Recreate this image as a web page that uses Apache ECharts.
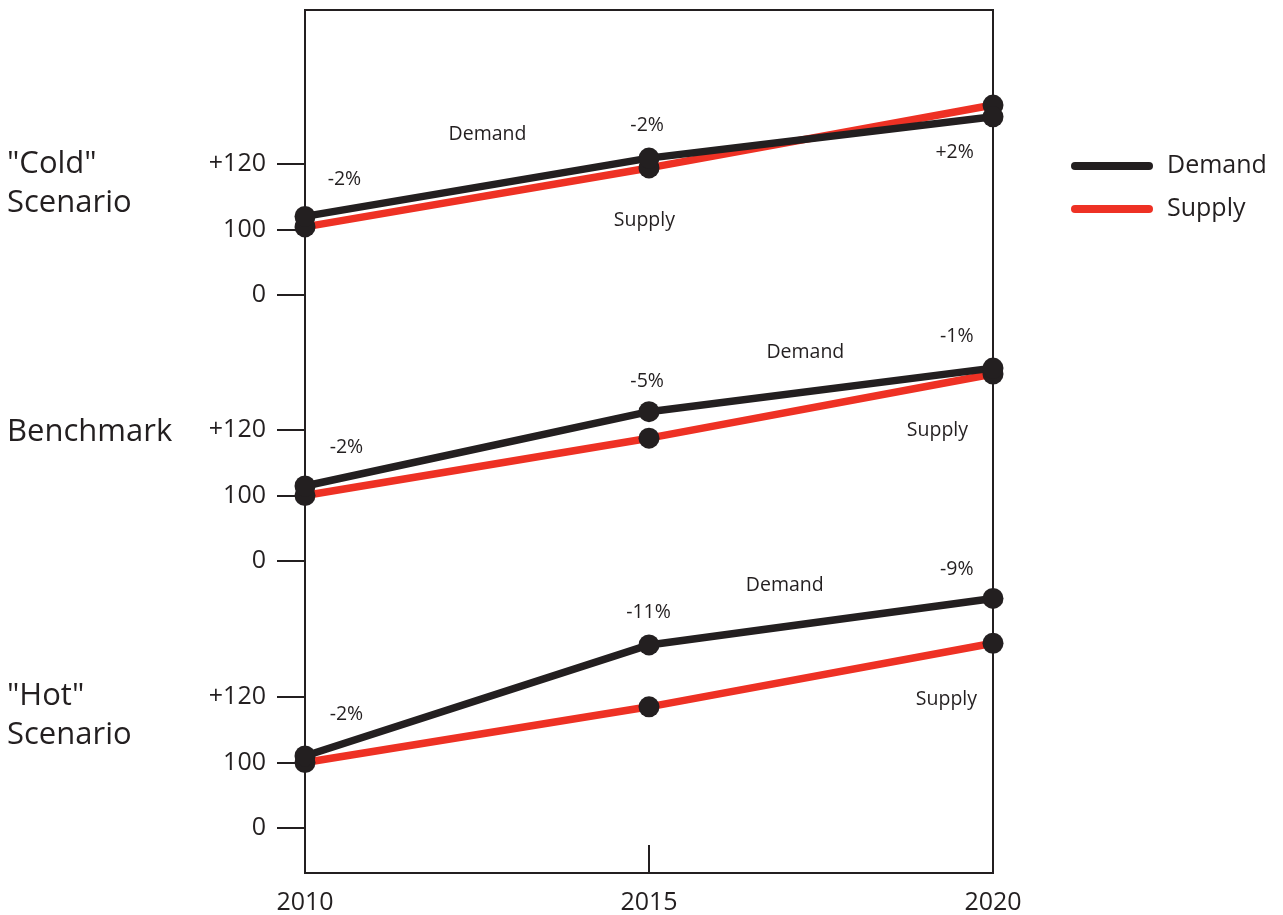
<!DOCTYPE html>
<html>
<head>
<meta charset="utf-8">
<title>Demand and Supply Scenarios</title>
<script src="https://cdn.jsdelivr.net/npm/echarts@6/dist/echarts.min.js"></script>
<style>
  html, body { margin: 0; padding: 0; background: #ffffff; }
  #chart { width: 1283px; height: 915px; }
</style>
</head>
<body>
<div id="chart"></div>
<script>
// ---- data ----
const years = [2010, 2015, 2020];
const xTickLabels = ['2010', '2015', '2020'];
const panelTitles = ['"Cold"\nScenario', 'Benchmark', '"Hot"\nScenario'];

// broken value axis: the lowest tick stands for zero
const yTickValues = [80, 100, 120];
const yTickLabels = ['0', '100', '+120'];

const demandCold = [104, 121.8, 134.4];
const supplyCold = [100.8, 118.8, 138];
const demandBenchmark = [102.9, 125.6, 138.9];
const supplyBenchmark = [100, 117.5, 137.1];
const demandHot = [102, 135.9, 150.1];
const supplyHot = [100, 117, 136.4];

// annotations: [year, value, text]
const notesCold = [
  [2010.58, 115.7, '-2%'], [2014.98, 132.2, '-2%'], [2019.45, 124.0, '+2%'],
  [2012.66, 129.5, 'Demand'], [2014.94, 103.2, 'Supply']
];
const notesBenchmark = [
  [2010.61, 115.1, '-2%'], [2014.98, 135.3, '-5%'], [2019.48, 149.0, '-1%'],
  [2017.28, 144.1, 'Demand'], [2019.20, 120.3, 'Supply']
];
const notesHot = [
  [2010.61, 115.1, '-2%'], [2015.00, 146.3, '-11%'], [2019.48, 159.4, '-9%'],
  [2016.98, 154.5, 'Demand'], [2019.33, 119.7, 'Supply']
];

// ---- styling / layout ----
const INK = '#231f20';
const RED = '#ee3124';
const FONT = '"Open Sans", "Noto Sans", sans-serif';

const panels = [
  { demand: demandCold, supply: supplyCold, notes: notesCold, top: 164, titleTop: 145 },
  { demand: demandBenchmark, supply: supplyBenchmark, notes: notesBenchmark, top: 430, titleTop: 413 },
  { demand: demandHot, supply: supplyHot, notes: notesHot, top: 697, titleTop: 677 }
];
const PLOT_LEFT = 305, PLOT_WIDTH = 688, PANEL_HEIGHT = 131;

const pairs = arr => years.map((yr, k) => [yr, arr[k]]);

const grids = [], xAxes = [], yAxes = [], series = [], titles = [];

panels.forEach((p, i) => {
  grids.push({ left: PLOT_LEFT, width: PLOT_WIDTH, top: p.top, height: PANEL_HEIGHT, show: false });
  xAxes.push({ gridIndex: i, type: 'value', min: 2010, max: 2020, show: false });
  yAxes.push({
    gridIndex: i, type: 'value', min: 80, max: 120, interval: 20,
    axisLine: { show: false },
    axisTick: { show: true, length: 28, lineStyle: { color: INK, width: 2 } },
    splitLine: { show: false },
    axisLabel: {
      margin: 39, fontSize: 25, color: INK, fontFamily: FONT,
      formatter: v => {
        const k = yTickValues.indexOf(v);
        return k >= 0 ? yTickLabels[k] : '';
      }
    }
  });
  titles.push({
    text: panelTitles[i], left: 7, top: p.titleTop, padding: 0,
    textStyle: { fontSize: 31, lineHeight: 39, fontWeight: 'normal', color: INK, fontFamily: FONT }
  });
  const lineBase = {
    type: 'line', xAxisIndex: i, yAxisIndex: i, clip: false, silent: true,
    symbol: 'circle', symbolSize: 21, showSymbol: true,
    itemStyle: { color: INK },
    emphasis: { disabled: true }
  };
  series.push(Object.assign({}, lineBase, {
    name: 'Supply', data: pairs(p.supply), z: 2,
    lineStyle: { color: RED, width: 7.5 }
  }));
  series.push(Object.assign({}, lineBase, {
    name: 'Demand', data: pairs(p.demand), z: 3,
    lineStyle: { color: INK, width: 7.5 }
  }));
  series.push({
    type: 'scatter', name: 'notes' + i, xAxisIndex: i, yAxisIndex: i, clip: false, silent: true,
    data: p.notes, symbolSize: 1, itemStyle: { color: 'rgba(0,0,0,0)' }, z: 4,
    label: {
      show: true, position: [0, 2], align: 'center', verticalAlign: 'middle',
      fontSize: 19.5, color: INK, opacity: 1, textBorderWidth: 0, fontFamily: FONT,
      formatter: d => d.data[2]
    },
    emphasis: { disabled: true }
  });
});

// outer frame with the shared year axis
grids.push({
  left: PLOT_LEFT, width: PLOT_WIDTH, top: 10, height: 863,
  show: true, borderColor: INK, borderWidth: 2, backgroundColor: 'transparent'
});
xAxes.push({
  gridIndex: 3, type: 'value', min: 2010, max: 2020, interval: 5,
  axisLine: { show: false },
  axisTick: { show: true, inside: true, length: 28, lineStyle: { color: INK, width: 2 } },
  splitLine: { show: false },
  axisLabel: {
    margin: 17, fontSize: 25, color: INK, fontFamily: FONT,
    formatter: v => xTickLabels[years.indexOf(v)] || ''
  }
});
yAxes.push({ gridIndex: 3, type: 'value', min: 0, max: 1, show: false });

const chart = echarts.init(document.getElementById('chart'), null, { renderer: 'canvas' });
chart.setOption({
  animation: false,
  backgroundColor: '#ffffff',
  title: titles,
  legend: {
    orient: 'vertical', left: 1071, top: 151, padding: 0,
    itemWidth: 82, itemHeight: 8, itemGap: 13,
    icon: 'path://M4,0 H78 A4,4 0 0 1 78,8 H4 A4,4 0 0 1 4,0 Z',
    selectedMode: false,
    textStyle: { fontSize: 25, lineHeight: 30, color: INK, fontFamily: FONT, padding: [0, 0, 0, 9] },
    data: [
      { name: 'Demand', itemStyle: { color: INK } },
      { name: 'Supply', itemStyle: { color: RED } }
    ]
  },
  grid: grids,
  xAxis: xAxes,
  yAxis: yAxes,
  series: series
});
</script>
</body>
</html>
